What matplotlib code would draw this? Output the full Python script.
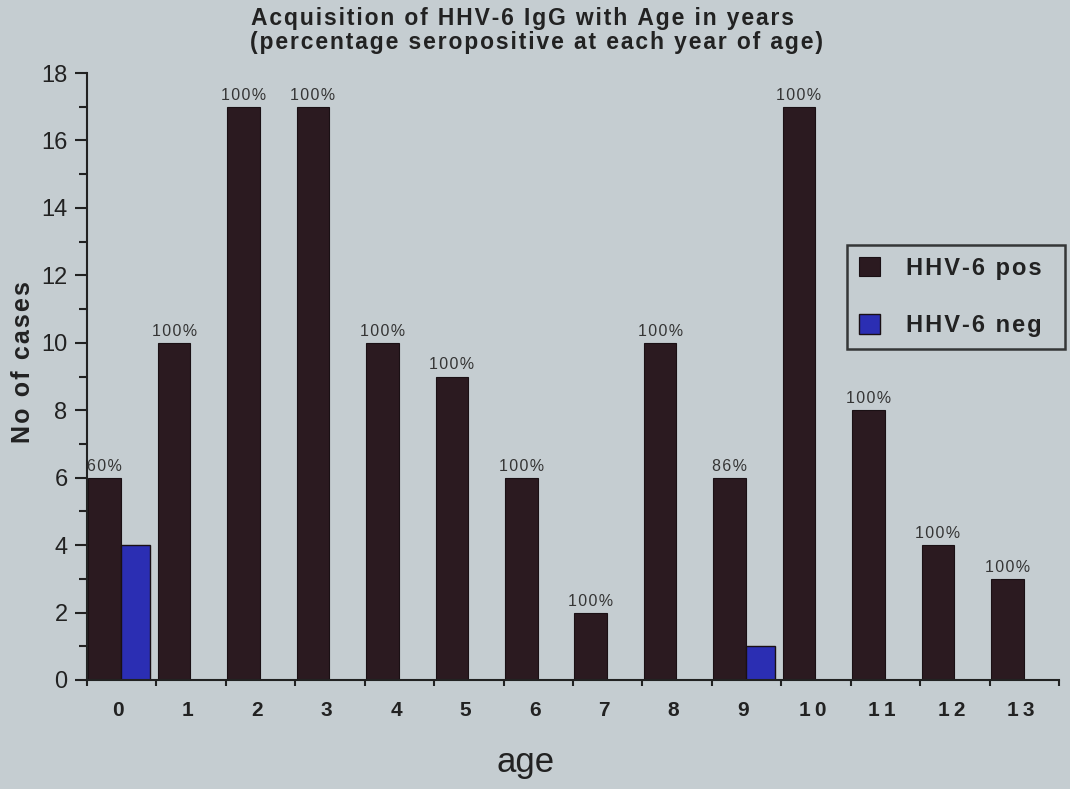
import matplotlib
matplotlib.use("Agg")
import matplotlib.pyplot as plt
import numpy as np
from matplotlib.ticker import MultipleLocator

# Seropositivity by year of age
ages = list(range(14))
pos_counts = [6, 10, 17, 17, 10, 9, 6, 2, 10, 6, 17, 8, 4, 3]
neg_counts = [4, 0, 0, 0, 0, 0, 0, 0, 0, 1, 0, 0, 0, 0]
pct_labels = ["60%", "100%", "100%", "100%", "100%", "100%", "100%",
              "100%", "100%", "86%", "100%", "100%", "100%", "100%"]
series_names = ["HHV-6 pos", "HHV-6 neg"]
title_lines = ["Acquisition of HHV-6 IgG with Age in years",
               "(percentage seropositive at each year of age)"]

bg = "#c5cdd1"
pos_color = "#2b1a20"
neg_color = "#2b2eb3"
ink = "#222222"

plt.rcParams['font.family'] = ['Liberation Sans', 'DejaVu Sans']

HAIR = "\u200a"


def spaced(s, gap=HAIR):
    # old-style tracked lettering
    return gap.join(s)


fig = plt.figure(figsize=(10.7, 7.89), dpi=100, facecolor=bg)
ax = fig.add_axes([87 / 1070, 1 - 680 / 789, 972 / 1070, 607 / 789],
                  facecolor=bg)

x = np.array(ages)
w = 0.47
off = 0.02
ax.bar(x - 0.5 + off, pos_counts, width=w, align='edge', color=pos_color,
       edgecolor="#1a1014", linewidth=0.8,
       label=spaced(series_names[0]) + "\u2002")
neg_x = np.array([a for a, n in zip(ages, neg_counts) if n > 0])
neg_y = [n for n in neg_counts if n > 0]
ax.bar(neg_x - 0.5 + off + w, neg_y, width=0.42, align='edge',
       color=neg_color, edgecolor="#1a1014", linewidth=1.0,
       label=spaced(series_names[1]) + "\u2002")

for a, v, t in zip(ages, pos_counts, pct_labels):
    ax.text(a - 0.5 + off + w / 2, v + 0.12, spaced(t),
            ha='center', va='bottom', fontsize=11.5, color="#353535")

ax.set_xlim(-0.5, 13.5)
ax.set_ylim(0, 18)
ax.yaxis.set_major_locator(MultipleLocator(2))
ax.yaxis.set_minor_locator(MultipleLocator(1))
ax.set_xticks(x - 0.05)
ax.set_xticklabels([spaced(str(a), "\u2009") for a in ages], fontsize=15,
                   fontweight='bold', color=ink)
ax.set_xticks(np.arange(-0.5, 14, 1), minor=True)
ax.tick_params(axis='x', which='major', length=0, pad=15)
ax.tick_params(axis='x', which='minor', length=4, width=1.5, color=ink)
ax.tick_params(axis='y', which='major', length=9, width=1.5, labelsize=17,
               color=ink, labelcolor=ink, pad=5)
ax.tick_params(axis='y', which='minor', length=6, width=1.5, color=ink)

for s in ['top', 'right']:
    ax.spines[s].set_visible(False)
for s in ['left', 'bottom']:
    ax.spines[s].set_linewidth(1.5)
    ax.spines[s].set_color(ink)

fig.text(23 / 1070, 1 - 362 / 789, spaced("No of cases"), rotation=90,
         ha='center', va='center', fontsize=18, fontweight='bold', color=ink)
fig.text(526 / 1070, 1 - 772 / 789, "age", ha='center', va='baseline',
         fontsize=25, color=ink)

fig.text(251 / 1070, 1 - 25 / 789, spaced(title_lines[0]), ha='left',
         va='baseline', fontsize=16.5, fontweight='bold', color=ink)
fig.text(250 / 1070, 1 - 49 / 789, spaced(title_lines[1]), ha='left',
         va='baseline', fontsize=16.5, fontweight='bold', color=ink)

leg = ax.legend(loc='upper left', bbox_to_anchor=(847 / 1070, 1 - 245 / 789),
                bbox_transform=fig.transFigure,
                prop={'size': 17, 'weight': 'bold'}, frameon=True,
                fancybox=False, handlelength=0.9, handleheight=0.9,
                handletextpad=1.1, borderpad=0.5, labelspacing=1.45,
                borderaxespad=0)
leg.get_frame().set_edgecolor("#111111")
leg.get_frame().set_linewidth(1.8)
leg.get_frame().set_facecolor(bg)
for t in leg.get_texts():
    t.set_color(ink)

fig.savefig("out.png", dpi=100, facecolor=bg)
